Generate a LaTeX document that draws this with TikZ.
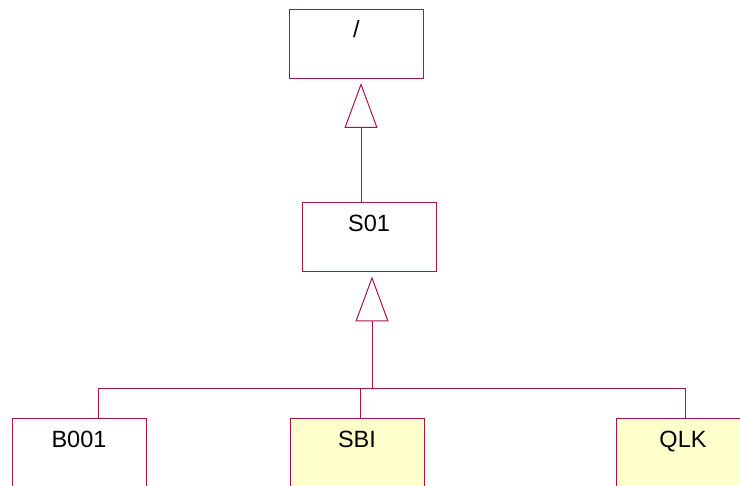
\documentclass[tikz,border=0pt]{standalone}
\usepackage{fontspec}
\setmainfont{Liberation Sans}
\usetikzlibrary{arrows.meta, positioning}
\definecolor{umlline}{HTML}{A3154F}
\definecolor{umlfill}{HTML}{FFFFCC}

\begin{document}
\begin{tikzpicture}[x=1pt, y=-1pt,
  every node/.style={font=\fontsize{23.5}{26}\selectfont},
  cls/.style={draw=umlline, line width=1pt, inner sep=0pt,
    minimum width=134pt, minimum height=69pt,
    text height=28.5pt, text depth=40.5pt},
  gen/.style={draw=umlline, line width=1pt, shorten >=4pt,
    -{Triangle[open, length=45pt 0, width=33pt 0]}},
  wire/.style={draw=umlline, line width=1pt}]
  \clip (0,0) rectangle (740,486);
  \node[cls] (root) at (356.5,44) {/};
  \node[cls] (S01) at (369,237.5) {S01};
  \coordinate (hub) at (372,389);
  \foreach \n/\x/\c/\d in {B001/79/white/19, SBI/357/umlfill/3, QLK/683/umlfill/2} {
    \node[cls, fill=\c] (\n) at (\x,453.5) {\n};
    \draw[wire] ([xshift=\d]\n.north) |- (hub);
  }
  \draw[gen] (hub) -- (hub |- S01.south);
  \coordinate (up) at ([xshift=-8]S01.north);
  \draw[gen] (up) -- (up |- root.south);
\end{tikzpicture}
\end{document}
